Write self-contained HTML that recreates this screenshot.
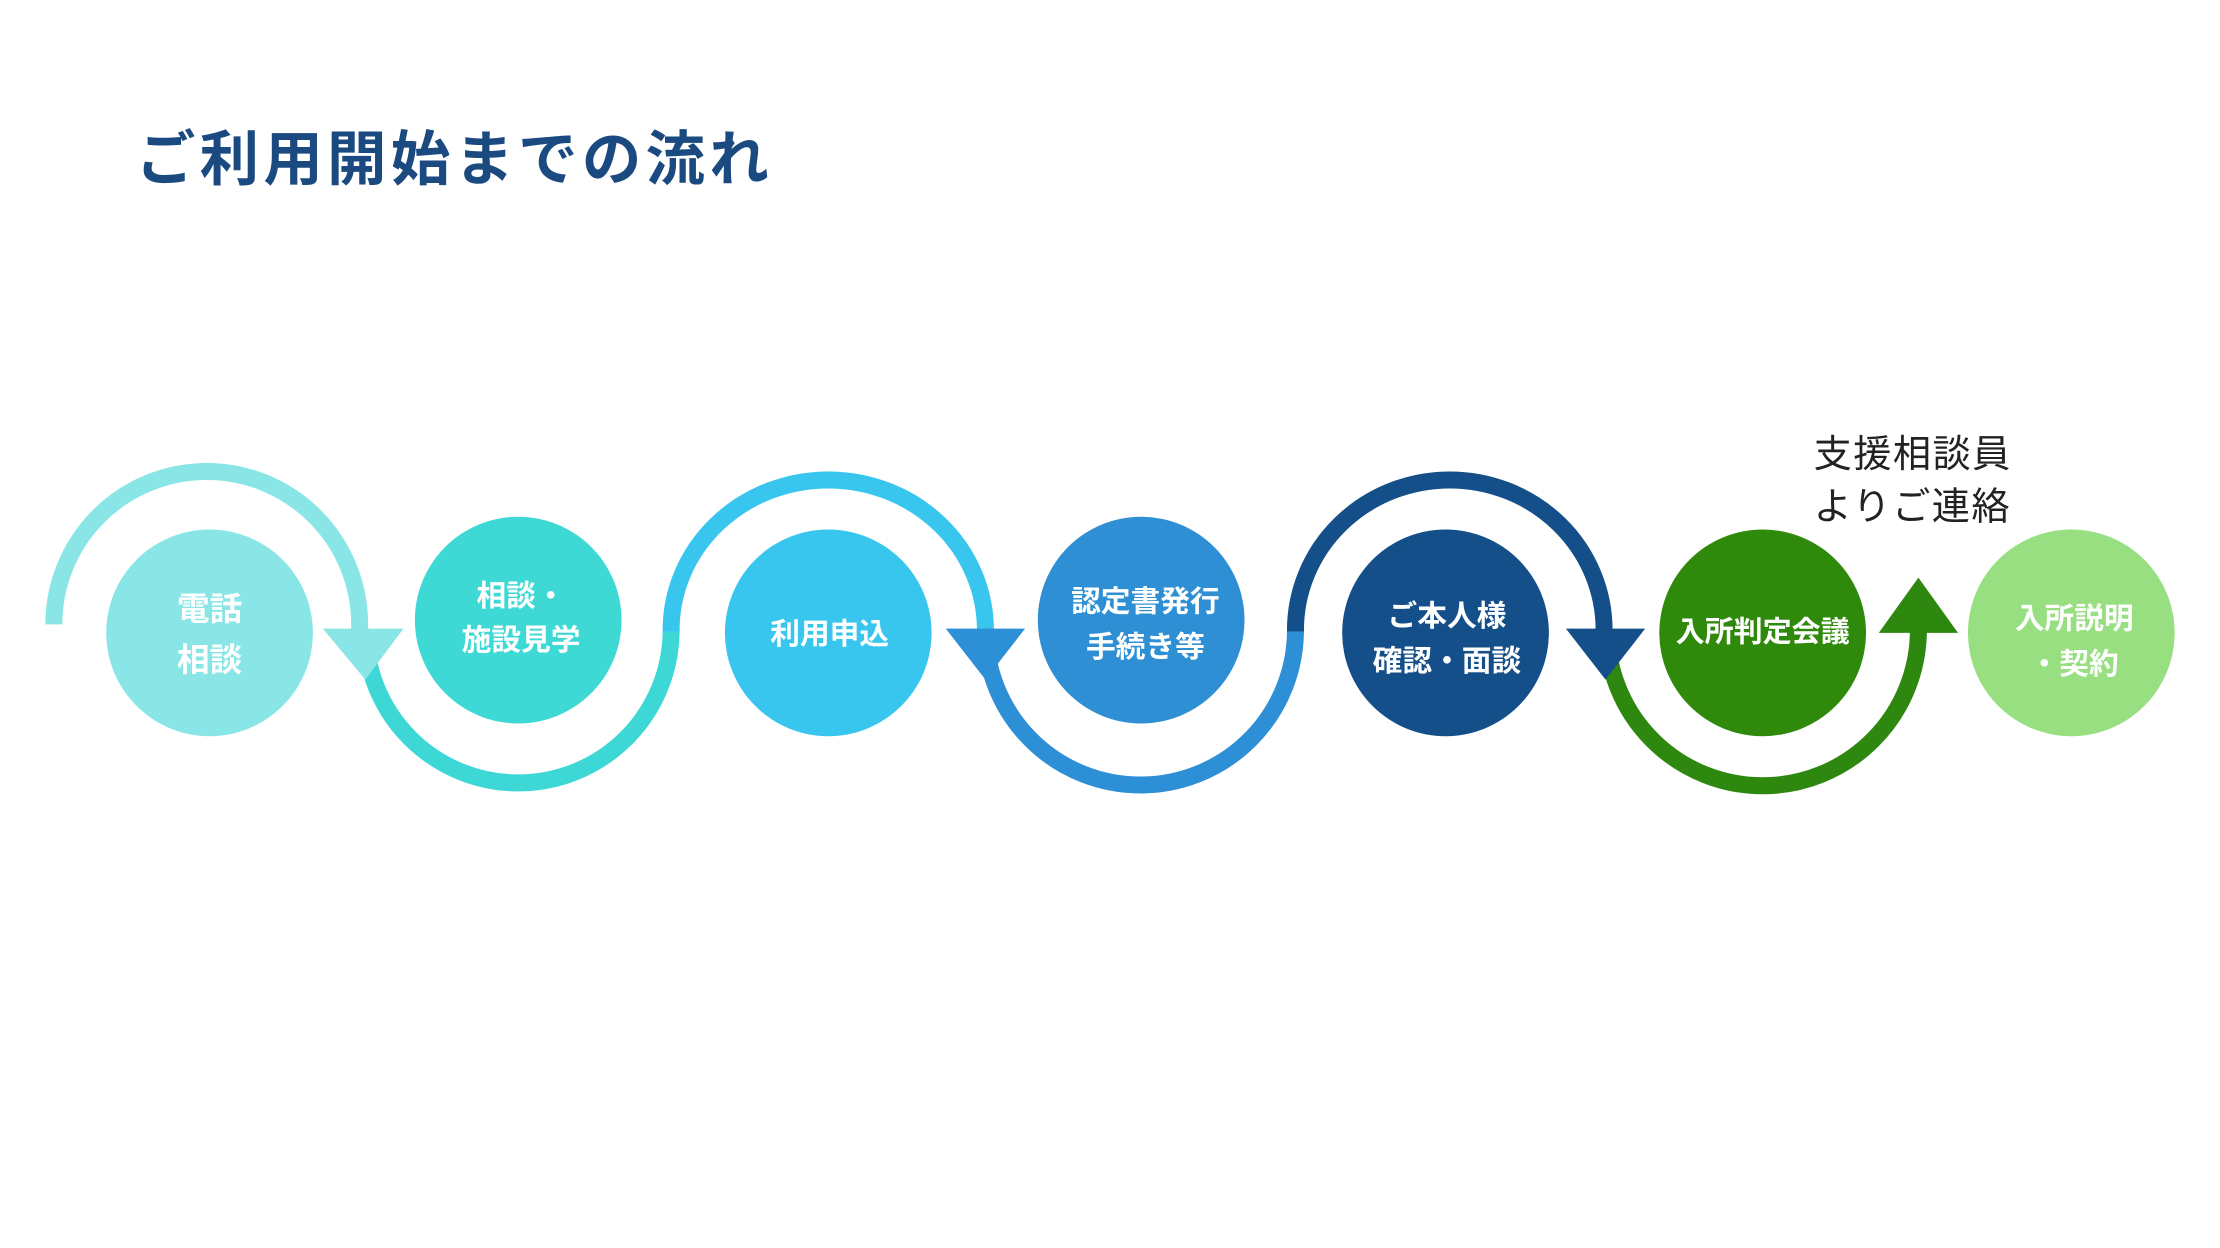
<!DOCTYPE html>
<html><head><meta charset="utf-8"><style>
html,body{margin:0;padding:0;background:#fff;}
svg{display:block;}
text{font-family:"Liberation Sans","Noto Sans CJK JP",sans-serif;}
</style></head><body>
<svg width="2220" height="1248" viewBox="0 0 1568 881.5" xmlns="http://www.w3.org/2000/svg">
<rect width="1568" height="881.5" fill="#fff"/>
<text x="96" y="127" font-size="42" font-weight="bold" fill="#1b4a80" letter-spacing="3">ご利用開始までの流れ</text>
<text x="1281" y="330" font-size="27" fill="#222" letter-spacing="1">支援相談員</text>
<text x="1281" y="367" font-size="27" fill="#222" letter-spacing="1">よりご連絡</text>
<g fill="none" stroke-width="12">
<path d="M38,441 A108,108 0 0 1 254,441 L254,452" stroke="#8ae6e6"/>
<path d="M258,445 A108,108 0 0 0 474,445" stroke="#3dd8d6"/>
<path d="M474,446 L474,445 A111,106 0 0 1 696,445 L696,452" stroke="#38c5ee"/>
<path d="M696,445 A109.5,109.5 0 0 0 915,445" stroke="#2d8fd5"/>
<path d="M915,446 L915,445 A109,106 0 0 1 1133,445 L1133,452" stroke="#144f89"/>
<path d="M1135,445 A110,110 0 0 0 1355,445 L1355,435" stroke="#2e870e"/>
</g>
<polygon points="228,444 285,444 258,480" fill="#8ae6e6"/>
<polygon points="668,444 724,444 696,480" fill="#2d8fd5"/>
<polygon points="1106,444 1162,444 1134,480" fill="#144f89"/>
<polygon points="1327,447 1383,447 1355,408" fill="#2e870e"/>
<circle cx="148" cy="447" r="73" fill="#8ae6e6"/>
<circle cx="366" cy="438" r="73" fill="#3ed8d5"/>
<circle cx="585" cy="447" r="73" fill="#38c6ee"/>
<circle cx="806" cy="438" r="73" fill="#2e8fd5"/>
<circle cx="1021" cy="447" r="73" fill="#144f89"/>
<circle cx="1245" cy="447" r="73" fill="#2f8a0c"/>
<circle cx="1463" cy="447" r="73" fill="#97df80"/>
<g fill="#fff" font-weight="bold" text-anchor="middle">
<text x="148" y="438" font-size="23">電話</text>
<text x="148" y="474" font-size="23">相談</text>
<text x="368" y="428" font-size="21">相談・</text>
<text x="368" y="459" font-size="21">施設見学</text>
<text x="586" y="455" font-size="21">利用申込</text>
<text x="809" y="432" font-size="21">認定書発行</text>
<text x="809" y="464" font-size="21">手続き等</text>
<text x="1022" y="442" font-size="21">ご本人様</text>
<text x="1022" y="474" font-size="21">確認・面談</text>
<text x="1245" y="453" font-size="20.5">入所判定会議</text>
<text x="1465" y="444" font-size="21">入所説明</text>
<text x="1465" y="476" font-size="21">・契約</text>
</g>
</svg>
</body></html>
